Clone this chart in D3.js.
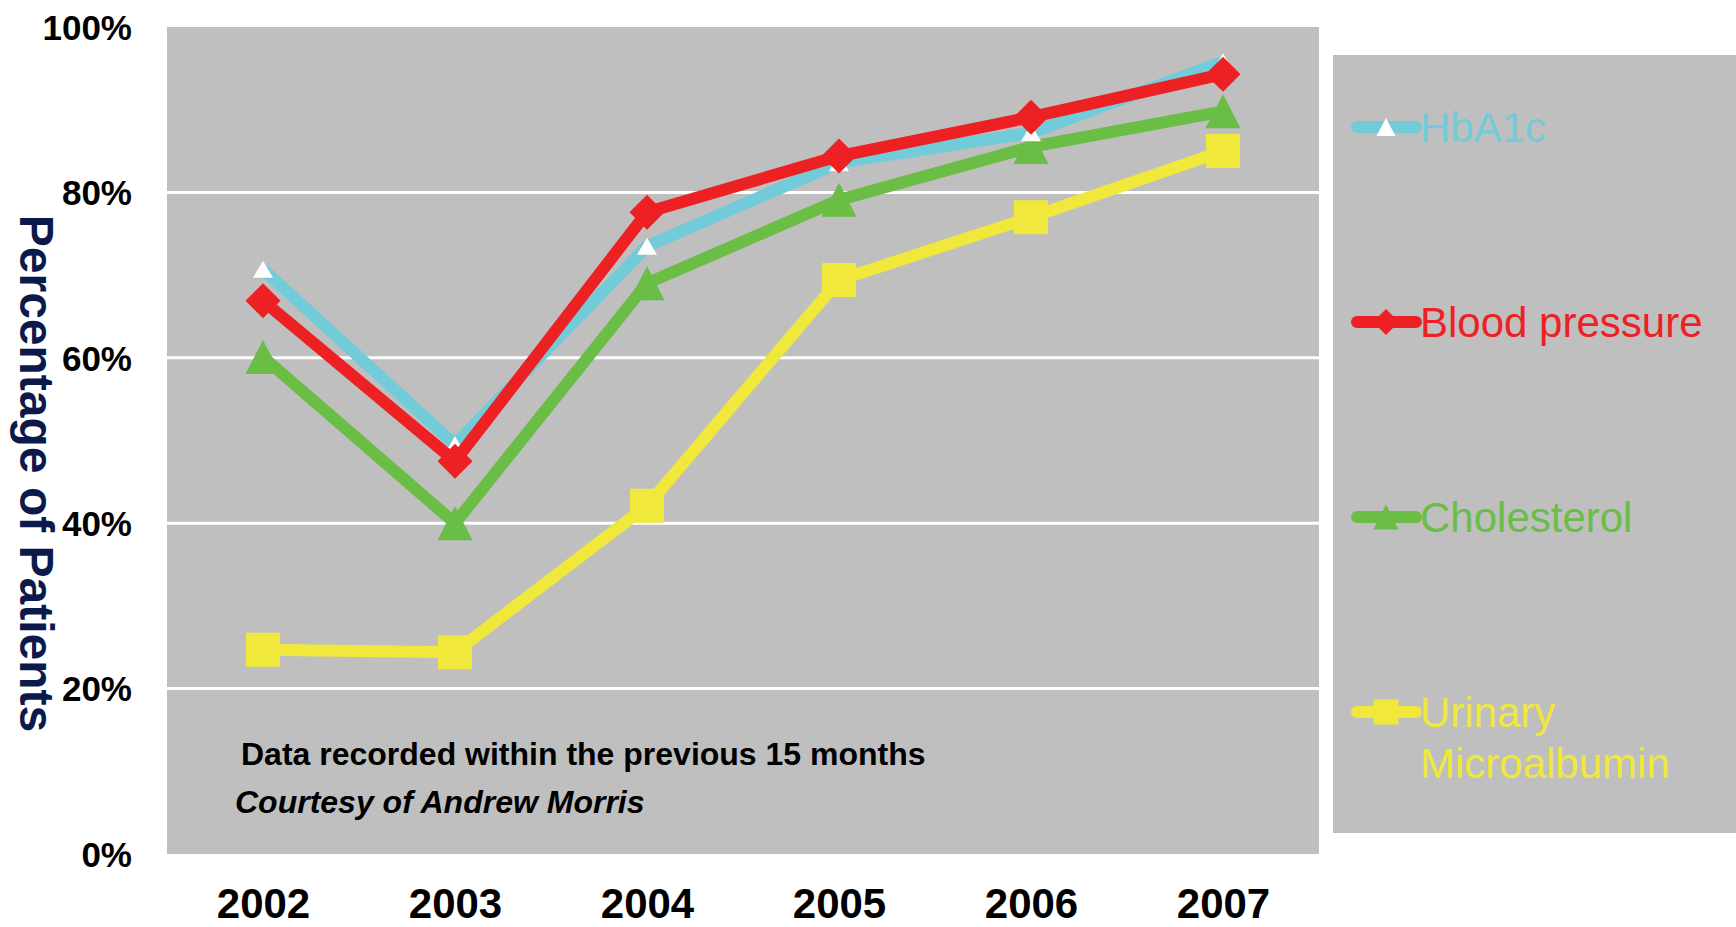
<!DOCTYPE html>
<html>
<head>
<meta charset="utf-8">
<script src="https://cdn.jsdelivr.net/npm/d3@7"></script>
<style>
  body { margin: 0; background: #fff; }
  text { font-family: "Liberation Sans", Arial, sans-serif; }
</style>
</head>
<body>
<div id="chart"></div>
<script>
// values (percent of patients)
const years = ["2002", "2003", "2004", "2005", "2006", "2007"];
const hba1c = [70.7, 49.5, 73.5, 83.6, 87.2, 95.8];
const bloodPressure = [66.9, 47.5, 77.6, 84.4, 89.1, 94.3];
const cholesterol = [60.1, 40.0, 69.0, 79.1, 85.5, 89.8];
const urinary = [24.7, 24.4, 42.1, 69.4, 77.0, 85.0];
const yTicks = [0, 20, 40, 60, 80, 100];
const seriesNames = ["HbA1c", "Blood pressure", "Cholesterol", "Urinary Microalbumin"];

const width = 1736, height = 927;
const plot = { left: 167, right: 1319, top: 27, bottom: 854 };

const svg = d3.select("#chart").append("svg")
    .attr("width", width)
    .attr("height", height);

const x = d3.scalePoint()
    .domain(years)
    .range([plot.left, plot.right])
    .padding(0.5);

const y = d3.scaleLinear()
    .domain([0, 100])
    .range([plot.bottom, plot.top]);

// plot background
svg.append("rect")
    .attr("x", plot.left).attr("y", plot.top)
    .attr("width", plot.right - plot.left)
    .attr("height", plot.bottom - plot.top)
    .attr("fill", "#bfbfbf");

// white gridlines
svg.append("g")
    .selectAll("line")
    .data(yTicks.filter(d => d > 0 && d < 100))
    .enter().append("line")
    .attr("x1", plot.left).attr("x2", plot.right)
    .attr("y1", d => y(d)).attr("y2", d => y(d))
    .attr("stroke", "#fff")
    .attr("stroke-width", 3);

// y axis labels
const yAxis = svg.append("g")
    .attr("transform", `translate(${plot.left - 35},0)`)
    .call(d3.axisLeft(y).tickValues(yTicks).tickFormat(d => d + "%").tickSize(0));
yAxis.select(".domain").remove();
yAxis.selectAll("text")
    .attr("x", 0)
    .attr("dy", "0.35em")
    .attr("fill", "#000")
    .style("font-size", "35px")
    .style("font-weight", "bold")
    .style("font-family", "'Liberation Sans', Arial, sans-serif");

// x axis labels
const xAxis = svg.append("g")
    .attr("transform", `translate(0,${plot.bottom})`)
    .call(d3.axisBottom(x).tickSize(0));
xAxis.select(".domain").remove();
xAxis.selectAll("text")
    .attr("y", 64)
    .attr("dy", 0)
    .attr("fill", "#000")
    .style("font-size", "42px")
    .style("font-weight", "bold")
    .style("font-family", "'Liberation Sans', Arial, sans-serif");

// y axis title
svg.append("text")
    .attr("transform", `translate(20,${(plot.top + plot.bottom) / 2 + 33}) rotate(90)`)
    .attr("text-anchor", "middle")
    .attr("fill", "#0c1a4b")
    .style("font-size", "48px")
    .style("font-weight", "bold")
    .text("Percentage of Patients");

// marker shapes
function triangle(w, h) {
    return `M0,${-h / 2}L${w / 2},${h / 2}L${-w / 2},${h / 2}Z`;
}
function square(s) {
    return `M${-s / 2},${-s / 2}h${s}v${s}h${-s}Z`;
}
function diamond(s) {
    return `M0,${-s / 2}L${s / 2},0L0,${s / 2}L${-s / 2},0Z`;
}

const series = [
    { name: seriesNames[3], values: urinary, color: "#f0e83a", fill: "#f0e83a", marker: square(34), legendMarker: square(25) },
    { name: seriesNames[2], values: cholesterol, color: "#6abd45", fill: "#6abd45", marker: triangle(35, 34), legendMarker: triangle(25, 25) },
    { name: seriesNames[0], values: hba1c, color: "#71cbd9", fill: "#ffffff", marker: triangle(20, 17), legendMarker: triangle(19, 18) },
    { name: seriesNames[1], values: bloodPressure, color: "#ed2024", fill: "#ed2024", marker: diamond(35), legendMarker: diamond(26) }
];

const line = d3.line()
    .x((d, i) => x(years[i]))
    .y(d => y(d));

series.forEach(s => {
    const g = svg.append("g");
    g.append("path")
        .datum(s.values)
        .attr("d", line)
        .attr("fill", "none")
        .attr("stroke", s.color)
        .attr("stroke-width", 12)
        .attr("stroke-linejoin", "miter");
    g.selectAll("path.marker")
        .data(s.values)
        .enter().append("path")
        .attr("class", "marker")
        .attr("d", s.marker)
        .attr("transform", (d, i) => `translate(${x(years[i])},${y(d)})`)
        .attr("fill", s.fill);
});

// notes
svg.append("text")
    .attr("x", 241).attr("y", 765)
    .style("font-size", "32px")
    .style("font-weight", "bold")
    .text("Data recorded within the previous 15 months");
svg.append("text")
    .attr("x", 235).attr("y", 813)
    .style("font-size", "32px")
    .style("font-weight", "bold")
    .style("font-style", "italic")
    .text("Courtesy of Andrew Morris");

// legend
const legend = svg.append("g");
legend.append("rect")
    .attr("x", 1333).attr("y", 55)
    .attr("width", width - 1333).attr("height", 833 - 55)
    .attr("fill", "#bfbfbf");

const legendOrder = [series[2], series[3], series[1], series[0]];
const legendY = d3.scalePoint().domain(legendOrder.map(d => d.name)).range([127, 712]);

legendOrder.forEach(s => {
    const ly = legendY(s.name);
    const item = legend.append("g").attr("transform", `translate(0,${ly})`);
    item.append("line")
        .attr("x1", 1357).attr("x2", 1416)
        .attr("stroke", s.color)
        .attr("stroke-width", 12)
        .attr("stroke-linecap", "round");
    item.append("path")
        .attr("d", s.legendMarker)
        .attr("transform", "translate(1386,0)")
        .attr("fill", s.fill);
    const words = s.name === "Urinary Microalbumin" ? ["Urinary", "Microalbumin"] : [s.name];
    const t = item.append("text")
        .attr("x", 1420)
        .attr("y", 15)
        .attr("fill", s.color)
        .style("font-size", "42px");
    words.forEach((w, i) => {
        t.append("tspan").attr("x", 1420).attr("dy", i === 0 ? 0 : 51).text(w);
    });
});
</script>
</body>
</html>
